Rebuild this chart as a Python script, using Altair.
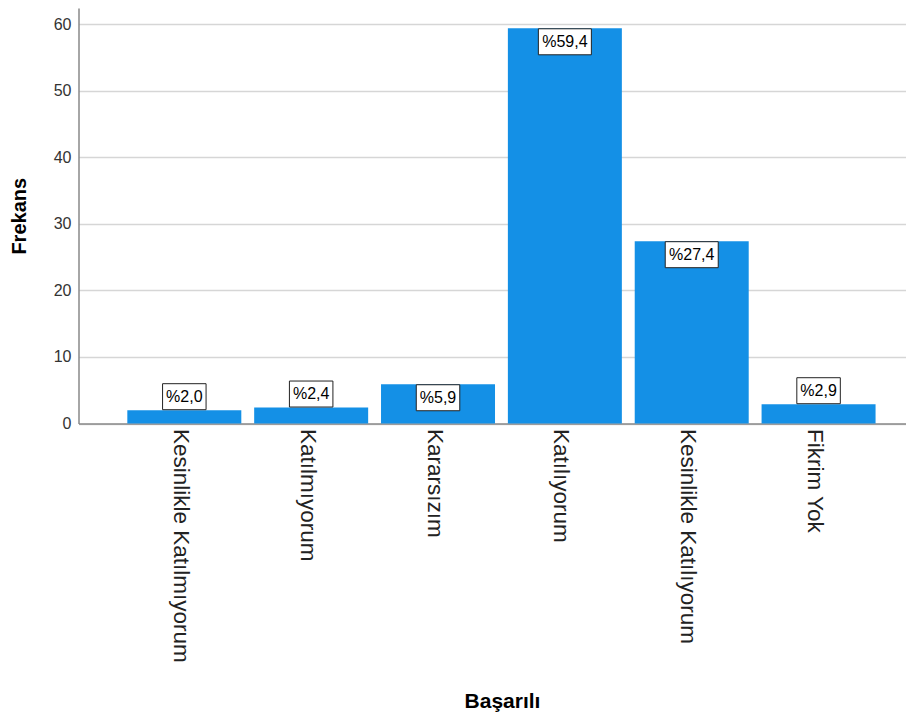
import altair as alt
import pandas as pd

kategoriler = ["Kesinlikle Katılmıyorum", "Katılmıyorum", "Kararsızım",
               "Katılıyorum", "Kesinlikle Katılıyorum", "Fikrim Yok"]
yuzdeler = [2.0, 2.4, 5.9, 59.4, 27.4, 2.9]
y_ticks = [0, 10, 20, 30, 40, 50, 60]

df = pd.DataFrame({"kategori": kategoriler, "yuzde": yuzdeler})

W = 834.5
H = 415.5
FONT = "Liberation Sans"
BAR = "#1490e6"

x_enc = alt.X(
    "kategori:N", sort=kategoriler,
    scale=alt.Scale(paddingInner=0.1014, paddingOuter=0.34, align=0.566),
    axis=alt.Axis(
        title="Başarılı", titleFont=FONT, titleFontSize=21, titleFontWeight="bold",
        titleColor="#000000", titleX=423.5, titleY=283.5, titleAlign="center",
        titleBaseline="alphabetic",
        labelAngle=90, labelAlign="left", labelBaseline="middle", labelFont=FONT,
        labelFontSize=22.5, labelColor="#222222", labelPadding=5, labelLimit=400,
        labelOffset=-3.5,
        ticks=False, grid=False, domainColor="#888888", domainWidth=1.5,
    ),
)
y_enc = alt.Y(
    "yuzde:Q",
    scale=alt.Scale(domain=[0, 62.45], nice=False, zero=True),
    axis=alt.Axis(
        title="Frekans", titleFont=FONT, titleFontSize=20, titleFontWeight="bold",
        titleColor="#000000", titleX=-59.5, titleY=H / 2, titleAngle=270,
        titleAlign="center", titleBaseline="middle",
        values=y_ticks, labelFont=FONT, labelFontSize=16, labelColor="#333333",
        labelPadding=7.5, ticks=False, grid=True, gridColor="#d6d6d6",
        gridWidth=1.5, domainColor="#888888", domainWidth=1.5,
    ),
)

base = alt.Chart(df).transform_calculate(
    etiket="'%' + replace(format(datum.yuzde, '.1f'), '.', ',')"
).transform_calculate(
    uzunluk="length(datum.etiket)"
)

bars = base.mark_bar(color=BAR).encode(x=x_enc, y=y_enc)

offset_expr = "datum.yuzde >= 5 ? 13.5 : -13.5"
shape_expr = ("datum.uzunluk <= 4 ? 'M-1,-0.5977H1V0.5977H-1Z' : "
              "'M-1,-0.4906H1V0.4906H-1Z'")
size_expr = "datum.uzunluk <= 4 ? 1892 : 2809"

boxes = base.mark_point(
    shape=alt.expr(shape_expr), size=alt.expr(size_expr), filled=True,
    fill="white", stroke="#222222", strokeWidth=1, opacity=1,
    yOffset=alt.expr(offset_expr),
).encode(x=alt.X("kategori:N", sort=kategoriler), y="yuzde:Q")

texts = base.mark_text(
    font=FONT, fontSize=16, color="#000000", align="center", baseline="middle",
    yOffset=alt.expr(offset_expr),
).encode(x=alt.X("kategori:N", sort=kategoriler), y="yuzde:Q", text="etiket:N")

chart = alt.layer(bars, boxes, texts).properties(
    width=W, height=H,
    autosize=alt.AutoSizeParams(type="none"),
    padding={"left": 70.5, "top": 0, "right": -7.5, "bottom": 288},
    background="white",
).configure_view(stroke=None)

chart.save("out.html", embed_options={"renderer": "svg", "actions": False})
